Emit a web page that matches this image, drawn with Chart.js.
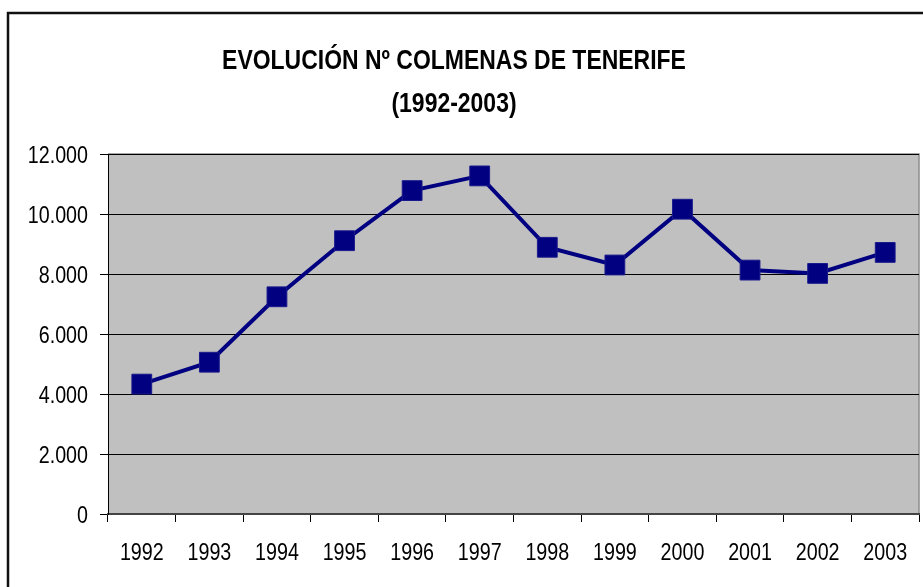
<!DOCTYPE html>
<html lang="es">
<head>
    <meta charset="UTF-8">
    <title>Evolución Nº Colmenas de Tenerife</title>
    <script src="https://cdn.jsdelivr.net/npm/chart.js"></script>
    <style>
        html, body { margin: 0; padding: 0; background: #fff; overflow: hidden; }
        #wrap { position: relative; width: 923px; height: 587px; }
    </style>
</head>
<body>
    <div id="wrap">
        <canvas id="colmenasChart" width="923" height="587"></canvas>
    </div>

    <script>
    const years = ['1992', '1993', '1994', '1995', '1996', '1997', '1998', '1999', '2000', '2001', '2002', '2003'];
    const colmenas = [4330, 5060, 7240, 9110, 10780, 11270, 8890, 8300, 10160, 8130, 8020, 8720];
    const yTicks = [0, 2000, 4000, 6000, 8000, 10000, 12000];
    const titleLines = ['EVOLUCIÓN Nº COLMENAS DE TENERIFE', '(1992-2003)'];

    const fontFamily = "'Liberation Sans', Arial, sans-serif";
    const narrow = 0.82; // no Arial Narrow here, so squeeze the text by hand

    function puntos(v) {
        return String(v).replace(/\B(?=(\d{3})+(?!\d))/g, '.');
    }

    function narrowText(ctx, text, x, y, align) {
        ctx.save();
        ctx.translate(x, y);
        ctx.scale(narrow, 1);
        ctx.textAlign = align;
        ctx.textBaseline = 'alphabetic';
        ctx.fillText(text, 0, 0);
        ctx.restore();
    }

    // grey plot background, frame round the picture, and the squeezed texts
    const fondo = {
        id: 'fondo',
        beforeDraw(chart) {
            const { ctx, chartArea: a } = chart;
            ctx.save();
            ctx.fillStyle = '#c0c0c0';
            ctx.fillRect(a.left, a.top, a.right - a.left, a.bottom - a.top);
            ctx.strokeStyle = '#8c8c8c';
            ctx.lineWidth = 1.5;
            ctx.beginPath();
            ctx.moveTo(a.left, a.top);
            ctx.lineTo(a.right, a.top);
            ctx.lineTo(a.right, a.bottom);
            ctx.stroke();
            ctx.restore();
        },
        afterDraw(chart) {
            const ctx = chart.ctx;
            const xs = chart.scales.x, ys = chart.scales.y;
            ctx.save();
            ctx.strokeStyle = '#111';
            ctx.lineWidth = 2.5;
            ctx.beginPath();
            ctx.moveTo(8, chart.height);
            ctx.lineTo(8, 13);
            ctx.lineTo(chart.width, 13);
            ctx.stroke();

            ctx.fillStyle = '#000';
            ctx.font = 'bold 28px ' + fontFamily;
            narrowText(ctx, titleLines[0], 454, 69, 'center');
            narrowText(ctx, titleLines[1], 454, 112, 'center');

            ctx.font = '24px ' + fontFamily;
            yTicks.forEach(v => {
                narrowText(ctx, puntos(v), ys.right - 20, ys.getPixelForValue(v) + 8.5, 'right');
            });
            years.forEach((y, i) => {
                narrowText(ctx, y, xs.getPixelForValue(i), xs.top + 46, 'center');
            });
            ctx.restore();
        }
    };

    new Chart(document.getElementById('colmenasChart').getContext('2d'), {
        type: 'line',
        data: {
            labels: years,
            datasets: [{
                data: colmenas,
                borderColor: '#000080',
                borderWidth: 4,
                backgroundColor: '#000080',
                pointStyle: 'rect',
                pointRadius: 14,
                pointHoverRadius: 14,
                pointBorderColor: '#1a1a8c',
                pointBorderWidth: 1,
                tension: 0
            }]
        },
        options: {
            responsive: false,
            animation: false,
            events: [],
            layout: { autoPadding: false, padding: { left: 0, right: 4, top: 154, bottom: 0 } },
            plugins: {
                legend: { display: false },
                tooltip: { enabled: false },
                title: { display: false }
            },
            scales: {
                x: {
                    offset: true,
                    grid: {
                        display: true,
                        offset: true,
                        drawOnChartArea: false,
                        drawTicks: true,
                        tickLength: 8,
                        color: '#000',
                        lineWidth: 1
                    },
                    border: { display: true, color: '#444', width: 2 },
                    ticks: { display: false },
                    afterFit(scale) { scale.height = 73; }
                },
                y: {
                    min: yTicks[0],
                    max: yTicks[yTicks.length - 1],
                    grid: {
                        color: '#000',
                        lineWidth: 1,
                        tickLength: 8,
                        drawTicks: true
                    },
                    border: { display: true, color: '#000', width: 1 },
                    ticks: { display: false, stepSize: 2000 },
                    afterFit(scale) { scale.width = 108; }
                }
            }
        },
        plugins: [fondo]
    });
    </script>
</body>
</html>
